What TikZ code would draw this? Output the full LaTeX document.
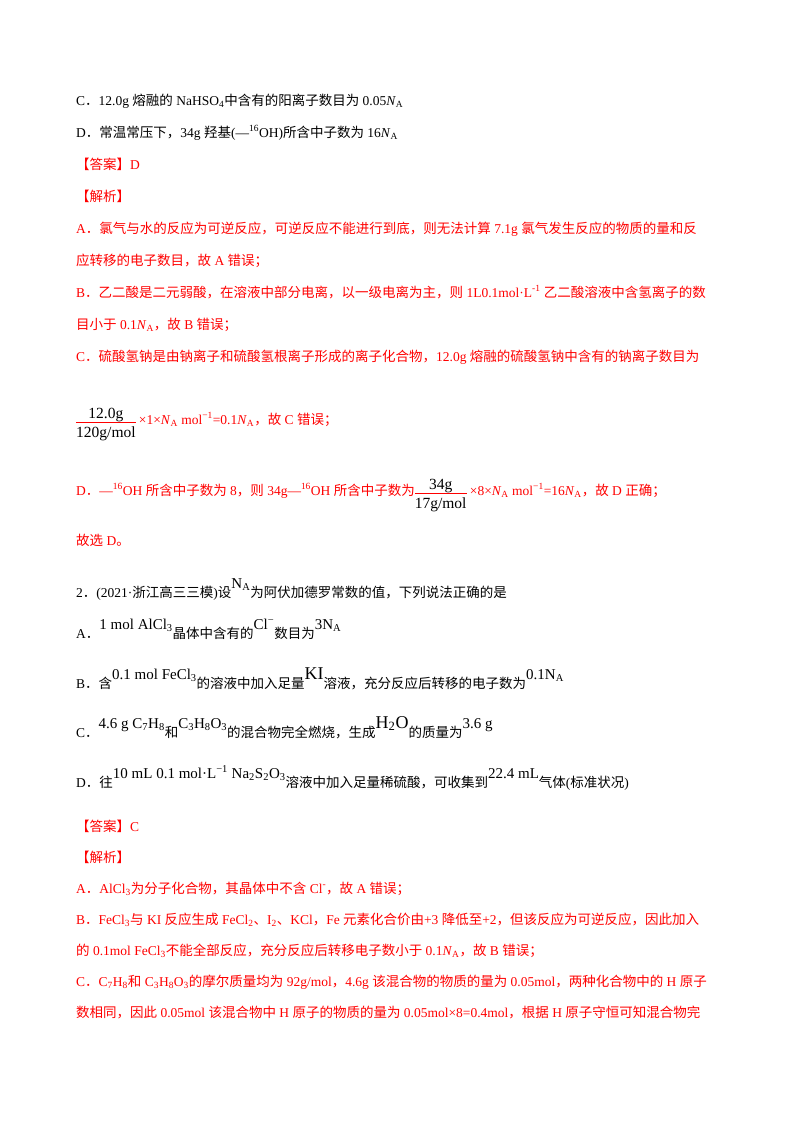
\documentclass[tikz,border=0pt]{standalone}
\usepackage{fontspec}
\setmainfont{Liberation Serif}
\newfontfamily\cjkf{Noto Sans CJK SC}
\XeTeXinterchartokenstate=1
\newXeTeXintercharclass\cjkclass
\newcount\cc
\cc="4E00 \loop\ifnum\cc<"A000 \XeTeXcharclass\cc=\cjkclass \advance\cc 1 \repeat
\cc="3000 \loop\ifnum\cc<"3040 \XeTeXcharclass\cc=\cjkclass \advance\cc 1 \repeat
\cc="FF00 \loop\ifnum\cc<"FFF0 \XeTeXcharclass\cc=\cjkclass \advance\cc 1 \repeat
\XeTeXinterchartoks 0 \cjkclass = {\begingroup\cjkf}
\XeTeXinterchartoks 4095 \cjkclass = {\begingroup\cjkf}
\XeTeXinterchartoks \cjkclass 0 = {\endgroup}
\XeTeXinterchartoks \cjkclass 4095 = {\endgroup}
\newcommand\NA{\textit{N}\textsubscript{A}}
\newcommand\NAu{N\textsubscript{A}}
\newcommand\rb[1]{\raisebox{9pt}{\fontsize{15}{17}\selectfont #1}}
\newcommand\fr[2]{\raisebox{-4pt}{$\vcenter{\hbox{\fontsize{15.5}{18}\selectfont\begin{tabular}{@{}c@{}}#1\\[-2pt]\hline\rule{0pt}{16pt}#2\end{tabular}}}$}}
\begin{document}
\begin{tikzpicture}[x=1pt,y=1pt,
 t/.style={anchor=base west,inner sep=0pt,font=\fontsize{13.5}{16}\selectfont},
 r/.style={t,text=red}]
\useasboundingbox (0,0) rectangle (800,-1132);
\node[t] (l1) at (76,-105) {C．12.0g 熔融的 NaHSO\textsubscript{4}中含有的阳离子数目为 0.05\NA};
\node[t] (l2) at (76,-137) {D．常温常压下，34g 羟基(—\textsuperscript{16}OH)所含中子数为 16\NA};
\node[r] (l3) at (76,-169) {【答案】D};
\node[r] (l4) at (76,-201) {【解析】};
\node[r] (l5) at (76,-233) {A．氯气与水的反应为可逆反应，可逆反应不能进行到底，则无法计算 7.1g 氯气发生反应的物质的量和反};
\node[r] (l6) at (76,-265) {应转移的电子数目，故 A 错误；};
\node[r] (l7) at (76,-297) {B．乙二酸是二元弱酸，在溶液中部分电离，以一级电离为主，则 1L0.1mol·L\textsuperscript{-1} 乙二酸溶液中含氢离子的数};
\node[r] (l8) at (76,-329) {目小于 0.1\NA，故 B 错误；};
\node[r] (l9) at (76,-361) {C．硫酸氢钠是由钠离子和硫酸氢根离子形成的离子化合物，12.0g 熔融的硫酸氢钠中含有的钠离子数目为};
\node[r] (l10) at (76,-424) {\fr{\textcolor{black}{12.0g}}{\textcolor{black}{120g/mol}} ×1×\NA\ mol\textsuperscript{−1}=0.1\NA，故 C 错误；};
\node[r] (l11) at (76,-495) {D．—\textsuperscript{16}OH 所含中子数为 8，则 34g—\textsuperscript{16}OH 所含中子数为\fr{\textcolor{black}{34g}}{\textcolor{black}{17g/mol}} ×8×\NA\ mol\textsuperscript{−1}=16\NA，故 D 正确；};
\node[r] (l12) at (76,-545) {故选 D。};
\node[t] (q) at (76,-597) {2．(2021·浙江高三三模)设\rb{\NAu}为阿伏加德罗常数的值，下列说法正确的是};
\node[t] (qa) at (76,-638) {A．\rb{1 mol AlCl\textsubscript{3}}晶体中含有的\rb{Cl\textsuperscript{−}}数目为\rb{3\NAu}};
\node[t] (qb) at (76,-688) {B．含\rb{0.1 mol FeCl\textsubscript{3}}的溶液中加入足量\rb{\fontsize{18}{20}\selectfont KI}溶液，充分反应后转移的电子数为\rb{0.1\NAu}};
\node[t] (qc) at (76,-737) {C．\rb{4.6 g C\textsubscript{7}H\textsubscript{8}}和\rb{C\textsubscript{3}H\textsubscript{8}O\textsubscript{3}}的混合物完全燃烧，生成\rb{\fontsize{18}{20}\selectfont H\textsubscript{2}O}的质量为\rb{3.6 g}};
\node[t] (qd) at (76,-787) {D．往\rb{10 mL 0.1 mol·L\textsuperscript{−1} Na\textsubscript{2}S\textsubscript{2}O\textsubscript{3}}溶液中加入足量稀硫酸，可收集到\rb{22.4 mL}气体(标准状况)};
\node[r] (a1) at (76,-831) {【答案】C};
\node[r] (a2) at (76,-862) {【解析】};
\node[r] (a3) at (76,-893) {A．AlCl\textsubscript{3}为分子化合物，其晶体中不含 Cl\textsuperscript{-}，故 A 错误；};
\node[r] (a4) at (76,-924) {B．FeCl\textsubscript{3}与 KI 反应生成 FeCl\textsubscript{2}、I\textsubscript{2}、KCl，Fe 元素化合价由+3 降低至+2，但该反应为可逆反应，因此加入};
\node[r] (a5) at (76,-955) {的 0.1mol FeCl\textsubscript{3}不能全部反应，充分反应后转移电子数小于 0.1\NA，故 B 错误；};
\node[r] (a6) at (76,-986) {C．C\textsubscript{7}H\textsubscript{8}和 C\textsubscript{3}H\textsubscript{8}O\textsubscript{3}的摩尔质量均为 92g/mol，4.6g 该混合物的物质的量为 0.05mol，两种化合物中的 H 原子};
\node[r] (a7) at (76,-1017) {数相同，因此 0.05mol 该混合物中 H 原子的物质的量为 0.05mol×8=0.4mol，根据 H 原子守恒可知混合物完};
\end{tikzpicture}
\end{document}
